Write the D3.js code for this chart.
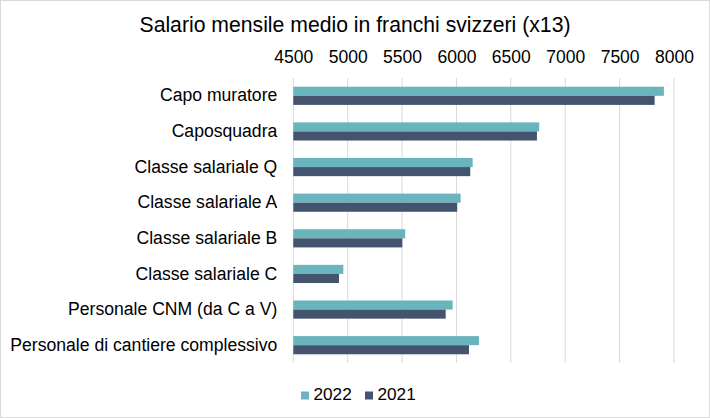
<!DOCTYPE html>
<html><head><meta charset="utf-8">
<script src="https://cdn.jsdelivr.net/npm/d3@7"></script>
<style>body{margin:0;background:#fff}svg{display:block;font-family:"Liberation Sans",Arial,sans-serif}</style>
</head><body><svg id="c" width="710" height="418"></svg>
<script>
const categories = ["Capo muratore","Caposquadra","Classe salariale Q","Classe salariale A","Classe salariale B","Classe salariale C","Personale CNM (da C a V)","Personale di cantiere complessivo"];
const series = ["2022","2021"];
const values2022 = [7907,6761,6149,6038,5529,4960,5965,6207];
const values2021 = [7822,6740,6127,6007,5502,4920,5901,6115];
const tickValues = [4500,5000,5500,6000,6500,7000,7500,8000];
const colors = ["#6ab4bd","#44546f"];
const title = "Salario mensile medio in franchi svizzeri (x13)";

const svg = d3.select("#c");
svg.append("rect").attr("x",0.5).attr("y",0.5).attr("width",709).attr("height",417).attr("fill","#fff").attr("stroke","#d9d9d9");
const pL = 293.3, pR = 674, pT = 78, pB = 363;
const x = d3.scaleLinear().domain([4500,8000]).range([pL,pR]);
const y = d3.scaleBand().domain(categories).range([pT,pB]).paddingInner(0.49).paddingOuter(0.245);
const ys = d3.scaleBand().domain(series).range([0,y.bandwidth()]);

svg.append("text").attr("x",355).attr("y",32).attr("text-anchor","middle").attr("font-size",21.2).attr("fill","#000").text(title);

const ax = svg.append("g").attr("transform",`translate(0,${pT})`).call(d3.axisTop(x).tickValues(tickValues).tickSize(0).tickPadding(15.3).tickFormat(d3.format("d")));
ax.select(".domain").remove();
ax.selectAll("text").attr("font-size",17.5).attr("fill","#000").attr("font-family","Liberation Sans, Arial, sans-serif");

svg.append("g").selectAll("line").data(tickValues.slice(1)).join("line")
 .attr("x1",d=>x(d)).attr("x2",d=>x(d)).attr("y1",pT).attr("y2",pB).attr("stroke","#d9d9d9").attr("stroke-width",1);
svg.append("line").attr("x1",x(4500)).attr("x2",x(4500)).attr("y1",pT).attr("y2",pB).attr("stroke","#d9d9d9");

const data = categories.map((c,i)=>({c, v:[values2022[i],values2021[i]]}));
const g = svg.append("g");
data.forEach(d=>{
  series.forEach((s,j)=>{
    g.append("rect").attr("x",x(4500)).attr("y",y(d.c)+ys(s)).attr("height",ys.bandwidth())
     .attr("width",x(d.v[j])-x(4500)).attr("fill",colors[j]);
  });
});

const ay = svg.append("g").attr("transform",`translate(${pL},0)`).call(d3.axisLeft(y).tickSize(0).tickPadding(16));
ay.select(".domain").remove();
ay.selectAll("text").attr("font-size",17.6).attr("fill","#000").attr("font-family","Liberation Sans, Arial, sans-serif");

const lg = svg.append("g");
const lx = [301,365];
series.forEach((s,j)=>{
  lg.append("rect").attr("x",lx[j]).attr("y",391.5).attr("width",8).attr("height",8).attr("fill",colors[j]);
  lg.append("text").attr("x",lx[j]+12.5).attr("y",400).attr("font-size",17.2).attr("fill","#000").text(s);
});
</script></body></html>
